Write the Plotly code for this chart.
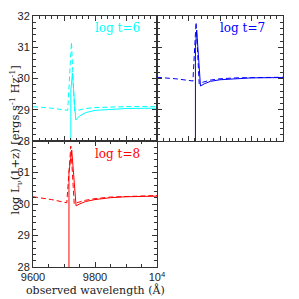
import plotly.graph_objects as go

# ---- data ----
ages = ["log t=6", "log t=7", "log t=8"]
colors = ["#00ffff", "#0000ff", "#ff0000"]

# log t = 6
t6_dash_x = [9600, 9660, 9712, 9724, 9734, 9745, 9770, 9800, 9850, 9900, 10000]
t6_dash_y = [29.10, 29.05, 28.98, 31.16, 28.96, 28.99, 29.04, 29.07, 29.09, 29.10, 29.10]
t6_sol_x = [9722, 9722, 9727, 9738, 9750, 9770, 9800, 9850, 9900, 10000]
t6_sol_y = [27.0, 29.6, 30.18, 28.67, 28.80, 28.91, 28.98, 29.02, 29.04, 29.05]

# log t = 7
t7_dash_x = [9600, 9660, 9714, 9724, 9734, 9745, 9770, 9800, 9850, 9900, 10000]
t7_dash_y = [30.04, 29.99, 29.92, 31.80, 29.83, 29.88, 29.95, 29.99, 30.02, 30.03, 30.04]
t7_sol_x = [9722, 9722, 9726, 9738, 9750, 9770, 9800, 9850, 9900, 10000]
t7_sol_y = [27.0, 31.0, 31.55, 29.76, 29.83, 29.91, 29.96, 30.00, 30.02, 30.03]

# log t = 8
t8_dash_x = [9600, 9660, 9709, 9722, 9733, 9745, 9770, 9800, 9850, 9900, 10000]
t8_dash_y = [30.23, 30.14, 30.04, 31.84, 30.00, 30.05, 30.12, 30.17, 30.22, 30.24, 30.27]
t8_sol_x = [9716, 9716, 9725, 9739, 9750, 9770, 9800, 9850, 9900, 10000]
t8_sol_y = [27.0, 31.0, 31.71, 29.94, 30.00, 30.08, 30.14, 30.20, 30.23, 30.25]

y_ticks = [28, 29, 30, 31, 32]
x_ticks_bottom = [9600, 9800, 10000]
x_ticktext_bottom = ["9600", "9800", "10<sup>4</sup>"]

series = [
    (t6_dash_x, t6_dash_y, t6_sol_x, t6_sol_y),
    (t7_dash_x, t7_dash_y, t7_sol_x, t7_sol_y),
    (t8_dash_x, t8_dash_y, t8_sol_x, t8_sol_y),
]

# page body has an 8px default margin -> figure drawn at offset 8
OFF = 8.0
W = H = 291.0
px = lambda a: (a - OFF) / W
py = lambda a: 1 - (a - OFF) / H
domains = [
    ([px(33), px(157)], [py(141), py(16)]),
    ([px(157), px(283)], [py(141), py(16)]),
    ([px(33), px(157)], [py(267), py(141)]),
]

fig = go.Figure()
for i, (dx, dy, sx, sy) in enumerate(series):
    xa = "x" if i == 0 else f"x{i+1}"
    ya = "y" if i == 0 else f"y{i+1}"
    fig.add_trace(go.Scatter(x=dx, y=dy, mode="lines", xaxis=xa, yaxis=ya,
                             line=dict(color=colors[i], width=1, dash="5px,3px"),
                             showlegend=False, hoverinfo="skip"))
    fig.add_trace(go.Scatter(x=sx, y=sy, mode="lines", xaxis=xa, yaxis=ya,
                             line=dict(color=colors[i], width=1),
                             showlegend=False, hoverinfo="skip"))

axcol = "#333333"
tickfont = dict(family="Liberation Sans, Arial, sans-serif", size=11, color="#222222")
for i, (dxd, dyd) in enumerate(domains):
    xk = "xaxis" if i == 0 else f"xaxis{i+1}"
    yk = "yaxis" if i == 0 else f"yaxis{i+1}"
    bottom = (i == 2)
    xax = dict(domain=dxd, range=[9600, 10000], anchor="y" if i == 0 else f"y{i+1}",
               showline=True, linecolor=axcol, linewidth=1, mirror="ticks", automargin=False,
               ticks="inside", ticklen=5, tickcolor=axcol, showgrid=False, zeroline=False,
               tickfont=tickfont)
    if bottom:
        xax.update(tickmode="array", tickvals=x_ticks_bottom, ticktext=x_ticktext_bottom,
                   showticklabels=True,
                   minor=dict(dtick=50, ticks="inside", ticklen=3, tickcolor=axcol, showgrid=False))
    else:
        xax.update(tick0=9600, dtick=100, showticklabels=False,
                   minor=dict(dtick=20, ticks="inside", ticklen=3, tickcolor=axcol, showgrid=False))
    yax = dict(domain=dyd, range=[28, 32], anchor="x" if i == 0 else f"x{i+1}",
               showline=True, linecolor=axcol, linewidth=1, mirror="ticks", automargin=False,
               ticks="inside", ticklen=5, tickcolor=axcol, showgrid=False, zeroline=False,
               tickmode="array", tickfont=tickfont,
               minor=dict(dtick=0.2, ticks="inside", ticklen=3, tickcolor=axcol, showgrid=False))
    if i == 0:
        yax.update(tickvals=y_ticks, ticktext=[str(v) for v in y_ticks])
    elif i == 2:
        yax.update(tickvals=y_ticks, ticktext=[str(v) for v in y_ticks[:-1]] + [""])
    else:
        yax.update(tickvals=y_ticks, showticklabels=False)
    fig.layout[xk] = xax
    fig.layout[yk] = yax

serif = "DejaVu Serif, Liberation Serif, serif"
label_pos = [(9872, 31.62), (9873, 31.62), (9872, 31.59)]
for i, (lx, ly) in enumerate(label_pos):
    fig.add_annotation(x=lx, y=ly, xref="x" if i == 0 else f"x{i+1}",
                       yref="y" if i == 0 else f"y{i+1}", text=ages[i], showarrow=False,
                       xanchor="center", yanchor="middle",
                       font=dict(family=serif, size=12, color=colors[i]))

fig.add_annotation(x=px(95), y=py(290), xref="paper", yref="paper",
                   xanchor="center", yanchor="middle",
                   text="observed wavelength (Å)", showarrow=False,
                   font=dict(family=serif, size=11, color="#222222"))
fig.add_annotation(x=px(15.5), y=py(140), xref="paper", yref="paper", textangle=-90,
                   xanchor="center", yanchor="middle",
                   text="log L<sub>ν</sub>(1+z) [ergs s<sup>-1</sup> Hz<sup>-1</sup>]",
                   showarrow=False, font=dict(family=serif, size=11.5, color="#222222"))

fig.update_layout(width=291, height=291, margin=dict(l=0, r=0, t=0, b=0, autoexpand=False),
                  paper_bgcolor="white", plot_bgcolor="white")
fig.write_html("out.html")
